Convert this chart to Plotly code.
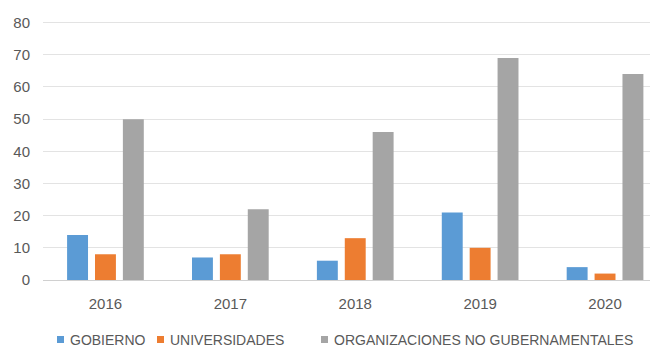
import plotly.graph_objects as go

years = ["2016", "2017", "2018", "2019", "2020"]
gobierno = [14, 7, 6, 21, 4]
universidades = [8, 8, 13, 10, 2]
ong = [50, 22, 46, 69, 64]

series_names = ["GOBIERNO", "UNIVERSIDADES", "ORGANIZACIONES NO GUBERNAMENTALES"]
series_values = [gobierno, universidades, ong]
series_colors = ["#5B9BD5", "#ED7D31", "#A5A5A5"]

W, H = 650, 347
M_L, M_R, M_T, M_B = 43, 0, 21, 67
PLOT_W = W - M_L - M_R
PLOT_H = H - M_T - M_B


def paper_x(px):
    return (px - M_L) / PLOT_W


def paper_y(py):
    return (H - M_B - py) / PLOT_H


fig = go.Figure()
for name, vals, color in zip(series_names, series_values, series_colors):
    fig.add_trace(go.Bar(x=years, y=vals, name=name, marker_color=color,
                         marker_line_width=0, showlegend=False))

text_color = "#595959"
tick_font = dict(family="Liberation Sans, Arial, sans-serif", size=15, color=text_color)
legend_font = dict(family="Liberation Sans, Arial, sans-serif", size=14, color=text_color)

# Legend drawn as small squares followed by labels along the bottom
legend_square_left = [57, 157, 321]
legend_y = 339.5
sq = 7
shapes = []
annotations = []
for left, name, color in zip(legend_square_left, series_names, series_colors):
    shapes.append(dict(type="rect", xref="paper", yref="paper",
                       x0=paper_x(left), x1=paper_x(left + sq),
                       y0=paper_y(legend_y + sq / 2), y1=paper_y(legend_y - sq / 2),
                       fillcolor=color, line_width=0))
    annotations.append(dict(xref="paper", yref="paper", x=paper_x(left + sq + 4),
                            y=paper_y(legend_y), xanchor="left", yanchor="middle",
                            text=name, showarrow=False, font=legend_font))

fig.update_layout(
    width=W, height=H,
    margin=dict(l=M_L, r=M_R, t=M_T, b=M_B, autoexpand=False),
    paper_bgcolor="white", plot_bgcolor="white",
    barmode="group", bargap=0.33, bargroupgap=0.25,
    font=tick_font,
    showlegend=False,
    shapes=shapes,
    annotations=annotations,
    xaxis=dict(range=[-0.5, 4.36], showgrid=False, showline=True, linecolor="#d0d0d0",
               linewidth=1, ticks="", tickfont=tick_font, ticklabelstandoff=10),
    yaxis=dict(range=[0, 80.5], dtick=10, showgrid=True, gridcolor="#e3e3e3",
               gridwidth=1, zeroline=False, ticks="", tickfont=tick_font,
               ticklabelstandoff=12),
)

fig.write_html("out.html")
